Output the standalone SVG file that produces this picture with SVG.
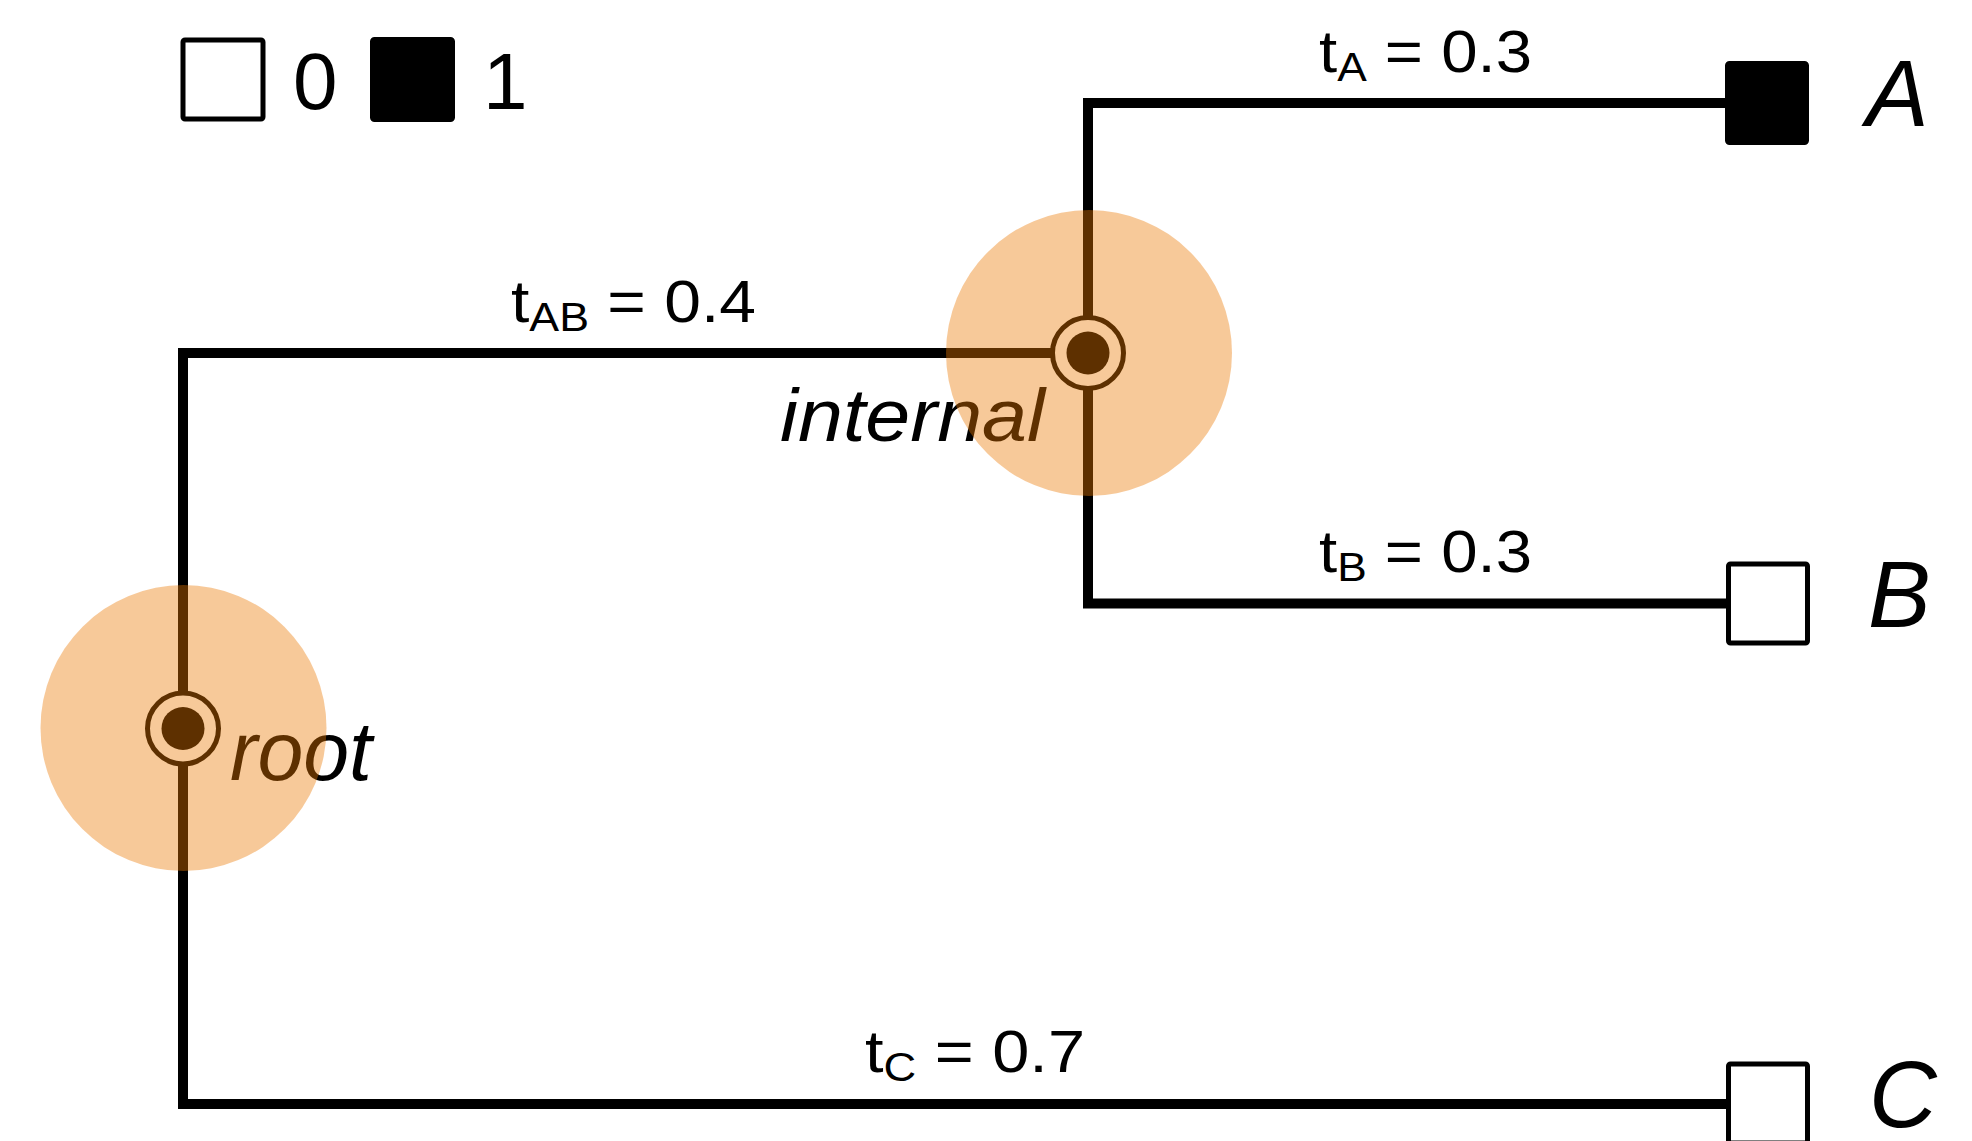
<svg xmlns="http://www.w3.org/2000/svg" width="1972" height="1141" viewBox="0 0 1972 1141">
<style>
  .edge { fill: none; stroke: #000; stroke-width: 10; stroke-linejoin: miter; stroke-linecap: butt; }
  .leaf0 { fill: #fff; stroke: #000; stroke-width: 5; }
  .leaf1 { fill: #000; stroke: #000; stroke-width: 5; }
  .txt { font-family: "Liberation Sans", Arial, Helvetica, sans-serif; fill: #000; }
  .blabel { font-size: 59px; }
  .sub { font-size: 40px; }
  .name { font-size: 94px; font-style: italic; }
  .nlabel { font-style: italic; }
  .ring { fill: #fff; stroke: #000; stroke-width: 5; }
  .dot { fill: #000; }
  .halo { fill: #eb7800; fill-opacity: 0.4; }
</style>

<g id="legend">
  <rect class="leaf0" x="183" y="40" width="80" height="79" rx="2"/>
  <text class="txt" x="293" y="109" font-size="80">0</text>
  <rect class="leaf1" x="372.5" y="39.5" width="80" height="80" rx="2"/>
  <text class="txt" x="483" y="109" font-size="80">1</text>
</g>

<g id="connectors">
  <path class="edge" d="M1088,353 H183 V1104 H1728"/>
  <path class="edge" d="M1728,103 H1088 V603.5 H1728"/>
  <text class="txt blabel" x="1319" y="72" textLength="213" lengthAdjust="spacingAndGlyphs">t<tspan class="sub" dy="9">A</tspan><tspan dy="-9"> = 0.3</tspan></text>
  <text class="txt blabel" x="1319" y="572" textLength="213" lengthAdjust="spacingAndGlyphs">t<tspan class="sub" dy="9">B</tspan><tspan dy="-9"> = 0.3</tspan></text>
  <text class="txt blabel" x="511" y="322" textLength="245" lengthAdjust="spacingAndGlyphs">t<tspan class="sub" dy="9">AB</tspan><tspan dy="-9"> = 0.4</tspan></text>
  <text class="txt blabel" x="865" y="1072" textLength="220" lengthAdjust="spacingAndGlyphs">t<tspan class="sub" dy="9">C</tspan><tspan dy="-9"> = 0.7</tspan></text>
</g>

<g id="leaf-A">
  <rect class="leaf1" x="1727.5" y="63.5" width="79" height="79" rx="2"/>
  <text class="txt name" x="1866" y="126">A</text>
</g>
<g id="leaf-B">
  <rect class="leaf0" x="1728.5" y="564" width="79" height="79" rx="2"/>
  <text class="txt name" x="1868" y="627">B</text>
</g>
<g id="leaf-C">
  <rect class="leaf0" x="1728.5" y="1064" width="79" height="79" rx="2"/>
  <text class="txt name" x="1869" y="1127">C</text>
</g>

<g id="node-internal">
  <circle class="ring" cx="1088" cy="353" r="35.5"/>
  <circle class="dot" cx="1088" cy="353" r="21.5"/>
  <text class="txt nlabel" x="780" y="441" font-size="74" textLength="265" lengthAdjust="spacingAndGlyphs">internal</text>
  <circle class="halo" cx="1089" cy="353" r="143"/>
</g>

<g id="node-root">
  <circle class="ring" cx="183" cy="728.5" r="35.5"/>
  <circle class="dot" cx="183" cy="728.5" r="21.5"/>
  <text class="txt nlabel" x="230" y="780" font-size="84" textLength="142" lengthAdjust="spacingAndGlyphs">root</text>
  <circle class="halo" cx="183.5" cy="728" r="143"/>
</g>
</svg>
